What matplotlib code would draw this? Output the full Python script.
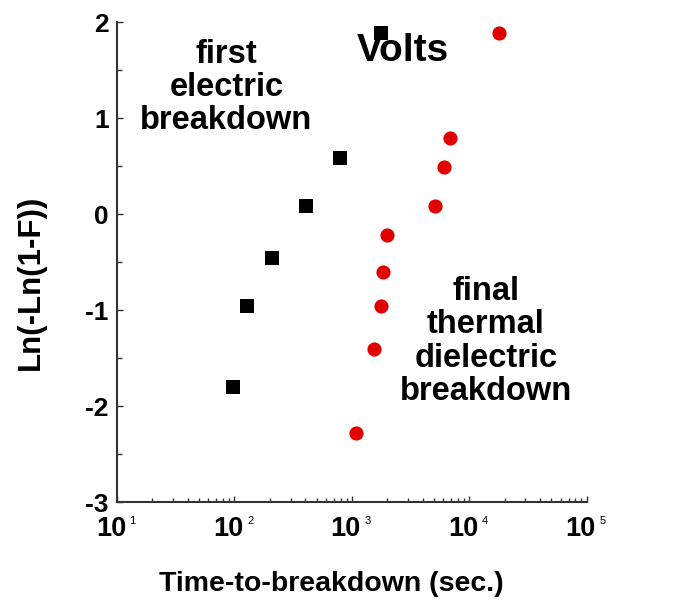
import matplotlib
matplotlib.use('Agg')
import matplotlib.pyplot as plt
import matplotlib.transforms as mtransforms
import numpy as np

plt.rcParams['font.family'] = ['Liberation Sans', 'DejaVu Sans']
plt.rcParams['font.weight'] = 'bold'
plt.rcParams['axes.unicode_minus'] = False

# first electric breakdown (squares)
t_first = [97, 129, 209, 407, 795, 1780]
w_first = [-1.80, -0.955, -0.46, 0.09, 0.59, 1.885]

# final thermal dielectric breakdown (circles)
t_final = [1086, 1545, 1760, 1850, 1980, 5100, 6120, 6850, 18000]
w_final = [-2.28, -1.40, -0.955, -0.60, -0.215, 0.09, 0.496, 0.79, 1.885]

decades = [1, 2, 3, 4, 5]
y_ticks = [-3, -2, -1, 0, 1, 2]

fig = plt.figure(figsize=(6.94, 6.03), dpi=100)
ax = fig.add_axes([0.1686, 0.167, 0.677, 0.796])

ax.plot(t_first, w_first, ls='none', marker='s', ms=10.3, color='black',
        markeredgewidth=0, zorder=4)
ax.plot(t_final, w_final, ls='none', marker='o', ms=10.2, color='#e00000',
        markeredgewidth=0, zorder=4)

ax.set_xscale('log')
ax.set_xlim(10, 1e5)
ax.set_ylim(-3, 2)

for side in ['top', 'right']:
    ax.spines[side].set_visible(False)
for side in ['left', 'bottom']:
    ax.spines[side].set_color('#333333')
    ax.spines[side].set_linewidth(1.5)

ax.set_yticks(y_ticks)
ax.set_yticks(np.arange(-2.5, 2.0, 1.0), minor=True)
ax.tick_params(axis='y', which='major', direction='in', length=4.5, width=1,
               color='#333333', labelsize=19, pad=6)
ax.tick_params(axis='y', which='minor', direction='in', length=3.5, width=1,
               color='#333333')
for lab in ax.get_yticklabels():
    lab.set_fontweight('bold')

ax.set_xticks([10.0 ** d for d in decades])
ax.xaxis.set_minor_locator(matplotlib.ticker.LogLocator(base=10, subs=np.arange(2, 10)))
ax.xaxis.set_minor_formatter(matplotlib.ticker.NullFormatter())
ax.set_xticklabels([''] * len(decades))
ax.tick_params(axis='x', which='major', direction='in', length=4.5, width=1,
               color='#333333')
ax.tick_params(axis='x', which='minor', direction='in', length=3, width=1,
               color='#333333')

# decade labels: "10" plus a small raised exponent
trans = mtransforms.blended_transform_factory(ax.transData, ax.transAxes)
for d in decades:
    ax.annotate('10', xy=(10.0 ** d, 0), xycoords=trans, xytext=(6.5, -10),
                textcoords='offset points', ha='right', va='top',
                fontsize=19.5, fontweight='bold', annotation_clip=False)
    ax.annotate(str(d), xy=(10.0 ** d, 0), xycoords=trans, xytext=(9, -10),
                textcoords='offset points', ha='left', va='top',
                fontsize=8, fontweight='normal', annotation_clip=False)

ax.set_xlabel('Time-to-breakdown (sec.)', fontsize=20.5, fontweight='bold')
ax.xaxis.set_label_coords(0.457, -0.143)
ax.set_ylabel('Ln(-Ln(1-F))', fontsize=22.5, fontweight='bold')
ax.yaxis.set_label_coords(-0.152, 0.458)

ax.text(0.608, 0.919, 'Volts', transform=ax.transAxes, ha='center',
        va='baseline', fontsize=28, fontweight='bold', zorder=3)
ax.text(0.233, 0.966, 'first\nelectric\nbreakdown', transform=ax.transAxes,
        ha='center', va='top', multialignment='center', fontsize=23.5,
        fontweight='bold', linespacing=1.1)
ax.text(0.785, 0.472, 'final\nthermal\ndielectric\nbreakdown',
        transform=ax.transAxes, ha='center', va='top',
        multialignment='center', fontsize=23.5, fontweight='bold',
        linespacing=1.1)

plt.savefig('out.png', dpi=100)
